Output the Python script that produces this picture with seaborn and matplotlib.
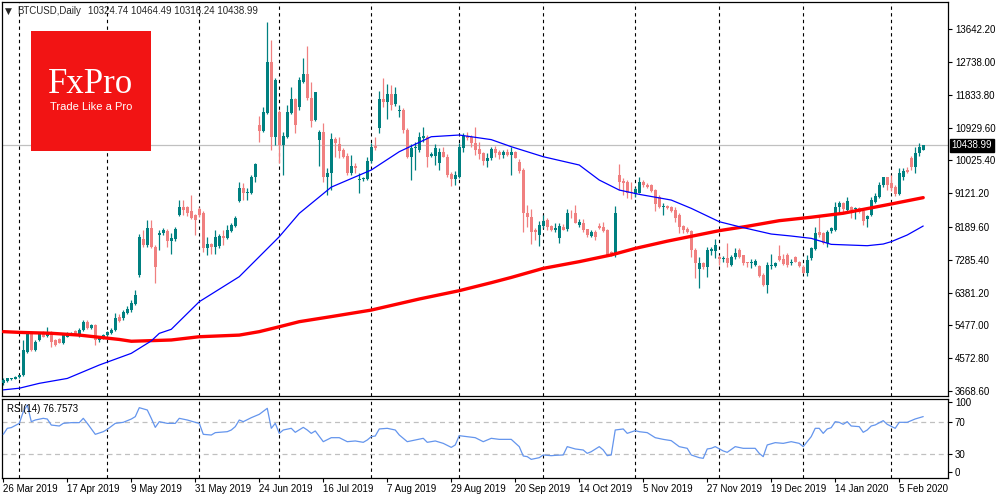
import numpy as np
import pandas as pd
import matplotlib
matplotlib.use("Agg")
import matplotlib.pyplot as plt
import seaborn as sns
from matplotlib.patches import Rectangle
from matplotlib.transforms import blended_transform_factory

sns.set_style("white")
plt.rcParams["font.family"] = ["Liberation Sans", "DejaVu Sans"]

# -----------------------------
# Daily OHLC (weekday bars, 26 Mar 2019 - 13 Feb 2020)
# -----------------------------
opens = [3880, 3955, 4000, 4010, 4060, 4110, 4750, 5300, 4800, 5070,
         5290, 5185, 5300, 5075, 5090, 4980, 5170, 5230, 5325, 5185,
         5350, 5580, 5400, 5490, 5075, 5120, 5210, 5260, 5350, 5720,
         5670, 5810, 5890, 6070, 6870, 7850, 7690, 8150, 7650, 7970,
         8015, 8090, 7815, 7850, 8520, 8750, 8730, 8640, 8520, 8700,
         8570, 7600, 7710, 7650, 7670, 7940, 7880, 8080, 8220, 8910,
         9255, 9120, 9120, 9560, 10990, 10850, 11340, 12740, 10660, 11370,
         10450, 10680, 11340, 11720, 11490, 12200, 12410, 11760, 11140, 10590,
         10820, 9580, 9670, 10610, 10480, 10310, 10150, 9670, 9870, 9485,
         9510, 9510, 10010, 10430, 10910, 11720, 11630, 11850, 11570, 11390,
         11415, 10860, 10130, 10360, 10310, 10650, 10680, 10150, 10150, 9945,
         10270, 10130, 9650, 9505, 9580, 10380, 10710, 10680, 10500, 10330,
         10220, 10020, 10080, 10340, 10250, 10175, 10250, 10175, 10250, 9990,
         9760, 8570, 8475, 8110, 7970, 8220, 8385, 8220, 8110, 7880,
         8200, 8125, 8585, 8565, 8245, 8310, 8125, 7940, 8060, 8220,
         8180, 8110, 7490, 7420, 9625, 9460, 9440, 9165, 9100, 9140,
         9440, 9350, 9350, 9210, 9025, 8730, 8780, 8750, 8660, 8520,
         8220, 8125, 8090, 7570, 7025, 7190, 7100, 7535, 7535, 7370,
         7300, 7345, 7140, 7370, 7555, 7410, 7205, 7190, 7140, 7125,
         6865, 6590, 7125, 7125, 7390, 7310, 7420, 7190, 7355, 7235,
         7095, 6930, 7325, 7575, 8060, 8015, 7740, 8090, 8105, 8730,
         8840, 8660, 8750, 8680, 8705, 8640, 8400, 8520, 8890, 9025,
         9350, 9560, 9395, 9280, 9100, 9580, 9760, 10080, 9855, 10240,
         10324.74]
highs = [4020, 4040, 4040, 4080, 4110, 5075, 5300, 5330, 5080, 5300,
         5330, 5440, 5330, 5100, 5120, 5250, 5300, 5300, 5350, 5400,
         5640, 5620, 5520, 5520, 5150, 5230, 5320, 5400, 5810, 5800,
         5900, 6010, 6180, 6440, 8000, 8110, 8380, 8380, 7700, 8110,
         8150, 8130, 8015, 8200, 8930, 8930, 8770, 9070, 8560, 8750,
         8620, 7905, 7740, 8110, 8000, 8110, 8250, 8310, 8490, 9440,
         9410, 9260, 9625, 9960, 11250, 11490, 13840, 13350, 12300, 11420,
         10800, 11550, 12040, 11750, 12320, 12840, 13180, 12200, 11920, 10860,
         11070, 9810, 10770, 10660, 10660, 10380, 10220, 10180, 9950, 9670,
         9560, 10130, 10500, 10680, 11950, 12290, 12130, 12100, 12040, 11550,
         11460, 10910, 10480, 10540, 10820, 10960, 10730, 10270, 10480, 10380,
         10405, 10200, 9700, 9740, 10500, 10770, 10800, 10730, 10940, 10540,
         10270, 10220, 10400, 10420, 10310, 10310, 10330, 10405, 10300, 10055,
         9810, 8800, 8700, 8150, 8355, 8520, 8430, 8250, 8310, 8290,
         8260, 8690, 8660, 8800, 8400, 8400, 8145, 8110, 8110, 8310,
         8330, 8125, 7530, 8770, 9930, 9530, 9485, 9440, 9300, 9560,
         9485, 9410, 9390, 9230, 9070, 8840, 8800, 8770, 8750, 8570,
         8245, 8200, 8110, 7600, 7370, 7235, 7650, 7650, 7850, 7420,
         7390, 7740, 7420, 7600, 7600, 7420, 7235, 7300, 7320, 7140,
         6930, 7235, 7450, 7235, 7695, 7445, 7465, 7300, 7390, 7260,
         7140, 7420, 7650, 8200, 8520, 8060, 8105, 8200, 8890, 8905,
         8890, 9025, 8770, 8750, 8750, 8680, 8520, 9010, 9140, 9440,
         9580, 9580, 9625, 9350, 9810, 9810, 9855, 10150, 10405, 10515,
         10464.49]
lows = [3840, 3930, 3980, 3990, 4030, 4090, 4720, 4770, 4780, 5040,
        5150, 5150, 4890, 4900, 4980, 4960, 5150, 5200, 5200, 5160,
        5330, 5380, 5380, 4940, 5020, 5090, 5180, 5240, 5320, 5580,
        5630, 5780, 5860, 6050, 6800, 7650, 7650, 7600, 6640, 7560,
        7980, 7650, 7460, 7800, 8490, 8520, 8500, 8400, 7970, 8480,
        7510, 7420, 7460, 7450, 7620, 7690, 7850, 8050, 8190, 8890,
        8930, 8930, 9100, 9440, 10540, 10800, 11300, 10310, 10450, 9960,
        9620, 10650, 11300, 10770, 11430, 12150, 11700, 10960, 11100, 9870,
        9440, 9070, 9210, 10130, 10080, 10100, 9620, 9620, 9670, 9120,
        9450, 9490, 9960, 10310, 10770, 11510, 11180, 11420, 11540, 11215,
        10770, 10100, 9490, 9760, 10270, 10540, 9850, 10130, 9900, 9760,
        10110, 9580, 9320, 9350, 9530, 10270, 10600, 10410, 10180, 10060,
        9900, 9850, 10040, 10130, 10060, 10080, 10150, 9625, 10080, 9670,
        8045, 8200, 7710, 7830, 7675, 8155, 8110, 8070, 8060, 7760,
        8100, 8090, 8430, 8290, 8200, 8060, 7925, 7925, 7830, 8125,
        8060, 7400, 7390, 7370, 9210, 9070, 8980, 8950, 9025, 9120,
        9300, 9255, 9165, 8640, 8705, 8520, 8690, 8610, 8340, 8015,
        8015, 8015, 7370, 6775, 6500, 7025, 6820, 7420, 7325, 7140,
        7235, 7100, 7115, 7300, 7325, 7140, 7095, 7050, 7115, 6820,
        6565, 6380, 7025, 7095, 7260, 7140, 7095, 7140, 7215, 7095,
        6910, 6840, 7280, 7555, 7925, 7720, 7650, 8035, 8090, 8570,
        8570, 8640, 8430, 8410, 8570, 8245, 8200, 8490, 8840, 8980,
        9300, 9210, 9190, 9045, 9080, 9485, 9670, 9760, 9690, 10150,
        10316.24]
closes = [3970, 4018, 4020, 4060, 4100, 4800, 5260, 4800, 5030, 5260,
          5150, 5300, 5030, 4940, 4980, 5210, 5260, 5280, 5210, 5350,
          5580, 5400, 5490, 5075, 5120, 5210, 5290, 5350, 5670, 5610,
          5860, 5920, 6090, 6320, 7920, 7690, 8150, 7650, 7100, 8015,
          8107, 7815, 7900, 8125, 8750, 8660, 8570, 8430, 8380, 8520,
          7600, 7710, 7650, 7920, 7940, 7880, 8110, 8245, 8450, 9275,
          9120, 9165, 9560, 9930, 10850, 11350, 12740, 10660, 12240, 10450,
          10700, 11370, 11720, 11000, 12240, 12410, 11760, 11120, 11900, 10800,
          9580, 9690, 10610, 10500, 10300, 10130, 9670, 9870, 9810, 9515,
          9550, 10010, 10405, 10380, 11720, 11630, 11850, 11560, 11850, 11415,
          10860, 10130, 10380, 10405, 10680, 10700, 10130, 10195, 10360, 10270,
          10130, 9625, 9505, 9625, 10405, 10700, 10640, 10500, 10310, 10200,
          10020, 10080, 10340, 10240, 10175, 10250, 10175, 10250, 10100, 9745,
          8570, 8475, 8060, 8045, 8245, 8355, 8200, 8110, 8155, 8220,
          8110, 8570, 8565, 8310, 8340, 8110, 7970, 8060, 7925, 8155,
          8090, 7420, 7420, 8585, 9440, 9410, 9140, 9120, 9230, 9440,
          9350, 9300, 9190, 8825, 8750, 8770, 8705, 8640, 8430, 8200,
          8110, 8060, 7570, 7190, 7190, 7100, 7555, 7575, 7695, 7300,
          7345, 7190, 7370, 7480, 7355, 7205, 7190, 7235, 7260, 6840,
          6590, 7140, 7140, 7205, 7280, 7170, 7140, 7235, 7235, 7115,
          6930, 7280, 7600, 8035, 7970, 7740, 8060, 8150, 8750, 8840,
          8680, 8915, 8660, 8705, 8610, 8365, 8490, 8935, 9045, 9350,
          9560, 9350, 9255, 9100, 9670, 9745, 9715, 9855, 10240, 10405,
          10438.99]

# Thick red moving average, read at sample bars
ma_red_bar = [0, 4, 12, 19, 24, 29, 32, 35, 42, 49, 59, 64, 69, 74, 82, 92,
              104, 114, 122, 127, 135, 144, 152, 158, 166, 179, 186, 194,
              202, 210, 222, 230]
ma_red_val = [5305, 5285, 5260, 5210, 5150, 5090, 5040, 5050, 5075, 5165,
              5210, 5305, 5440, 5580, 5720, 5900, 6205, 6435, 6655, 6800,
              7050, 7235, 7420, 7600, 7800, 8090, 8210, 8365, 8460, 8570,
              8825, 9000]

# Thin blue moving average
ma_blue_bar = [0, 4, 9, 16, 24, 32, 37, 39, 42, 49, 59, 69, 74, 82, 92, 99,
               107, 114, 122, 127, 135, 144, 149, 154, 159, 167, 172, 179,
               184, 192, 197, 202, 207, 216, 220, 222, 226, 230]
ma_blue_val = [3700, 3745, 3880, 4015, 4385, 4707, 5050, 5258, 5370, 6131,
               6821, 7923, 8567, 9290, 9762, 10267, 10680, 10727, 10600, 10405,
               10129, 9900, 9486, 9210, 9091, 8934, 8705, 8337, 8199, 7997,
               7942, 7878, 7712, 7675, 7721, 7786, 7970, 8218]

# RSI(14)
rsi_bar = [0, 1, 2, 4, 5, 6, 7, 8, 10, 11, 12, 14, 15, 17, 19, 20, 21, 23,
           25, 26, 28, 30, 32, 33, 34, 36, 37, 38, 39, 41, 43, 44, 46, 48,
           49, 50, 52, 53, 56, 57, 58, 59, 60, 62, 64, 66, 67, 68, 69, 70,
           72, 73, 75, 76, 77, 78, 80, 82, 84, 86, 88, 90, 91, 92, 93, 94,
           96, 98, 99, 101, 103, 105, 106, 108, 110, 112, 113, 114, 116, 118,
           120, 122, 124, 126, 127, 129, 130, 131, 132, 134, 135, 137, 138,
           140, 141, 143, 145, 146, 147, 149, 150, 151, 152, 153, 155, 156,
           158, 159, 161, 163, 165, 167, 169, 171, 172, 174, 175, 176, 177,
           178, 180, 181, 183, 185, 188, 189, 190, 191, 193, 195, 197, 199,
           200, 202, 203, 204, 205, 206, 207, 208, 209, 210, 211, 212, 214,
           215, 216, 217, 218, 220, 221, 223, 224, 226, 228, 230]
rsi_val = [54.6, 62.1, 63.0, 68.3, 82.9, 91.3, 70.4, 72.5, 74.6, 73.7, 66.2,
           65.0, 68.3, 69.2, 69.2, 74.6, 68.3, 54.6, 57.9, 60.8, 68.3, 69.6,
           73.7, 76.7, 87.9, 85.0, 74.6, 63.3, 70.4, 68.3, 68.3, 74.6, 72.5,
           69.6, 68.3, 54.6, 53.7, 56.7, 57.9, 60.0, 64.2, 72.5, 70.4, 75.4,
           79.6, 87.1, 62.1, 68.3, 55.8, 60.0, 62.1, 57.1, 63.3, 60.0, 55.8,
           58.8, 45.4, 50.4, 50.4, 45.4, 46.3, 44.6, 47.5, 51.7, 52.5, 61.3,
           62.1, 60.0, 53.8, 45.4, 47.5, 49.6, 44.6, 46.3, 43.3, 38.3, 41.3,
           52.9, 51.7, 50.4, 45.4, 49.6, 48.3, 48.3, 48.3, 39.2, 27.5, 26.7,
           23.3, 25.4, 28.8, 27.9, 28.3, 28.8, 39.2, 36.3, 35.0, 30.8, 32.9,
           39.2, 35.0, 27.9, 28.8, 60.0, 61.3, 55.8, 59.2, 57.9, 56.7, 50.4,
           48.3, 46.7, 39.2, 37.1, 28.8, 25.4, 24.6, 36.3, 37.1, 39.2, 33.8,
           32.1, 39.2, 37.1, 37.1, 30.8, 26.7, 41.3, 44.2, 43.3, 45.4, 43.3,
           39.2, 51.7, 62.1, 62.1, 55.8, 61.3, 62.9, 70.4, 69.6, 67.1, 70.4,
           65.0, 64.2, 57.1, 60.0, 65.0, 66.3, 71.7, 67.1, 62.1, 69.6, 69.6,
           73.8, 76.7573]

price_ticks = [13642.20, 12738.00, 11833.80, 10929.60, 10025.40, 9121.20,
               8189.60, 7285.40, 6381.20, 5477.00, 4572.80, 3668.60]

# -----------------------------
# Build frame
# -----------------------------
dates = pd.bdate_range("2019-03-26", "2020-02-13")
dates = dates.drop(pd.to_datetime(["2019-12-25", "2020-01-01"]))

df = pd.DataFrame({"date": dates, "open": opens, "high": highs,
                   "low": lows, "close": closes})
df["bar"] = np.arange(len(df))
df["up"] = df["close"] >= df["open"]

UP = "#008080"
DOWN = "#F08080"
colors = np.where(df["up"], UP, DOWN)

fig = plt.figure(figsize=(10, 5), dpi=100)
ax = fig.add_axes([0.002, 0.208, 0.946, 0.788])
ax_rsi = fig.add_axes([0.002, 0.044, 0.946, 0.158])

# -----------------------------
# Price panel
# -----------------------------
ax.axhline(closes[-1], color="#C0C0C0", lw=0.9, zorder=0)

ax.vlines(df["bar"], df["low"], df["high"], colors=colors, lw=0.9, zorder=2)
body_bottom = np.minimum(df["open"], df["close"])
body_height = np.maximum((df["close"] - df["open"]).abs(), 25)
ax.bar(df["bar"], body_height, bottom=body_bottom, width=0.72,
       color=colors, linewidth=0, zorder=3)

sns.lineplot(x=ma_red_bar, y=ma_red_val, ax=ax, color="#FF0000", lw=2.4,
             estimator=None, legend=False, zorder=4)
sns.lineplot(x=ma_blue_bar, y=ma_blue_val, ax=ax, color="#0000FF", lw=0.9,
             estimator=None, legend=False, zorder=4)

# month separators
sep_bars = [i for i in range(1, len(dates)) if dates[i].month != dates[i - 1].month]
for a in (ax, ax_rsi):
    for b in sep_bars:
        a.axvline(b, color="black", lw=0.8, ls=(0, (3, 3)), zorder=1)

ax.set_xlim(-0.325, 236.2)
ax.set_ylim(3530.7, 14395)
ax.set_xticks([])
ax.yaxis.tick_right()
ax.set_yticks(price_ticks)
ax.set_yticklabels([f"{v:.2f}" for v in price_ticks])
ax.tick_params(axis="y", direction="out", length=3, width=0.8,
               labelsize=7, pad=2, colors="black", right=True)

trans = blended_transform_factory(ax.transAxes, ax.transData)
ax.text(1.004, closes[-1], f"{closes[-1]:.2f}", transform=trans,
        color="white", fontsize=7, va="center", ha="left",
        bbox=dict(boxstyle="square,pad=0.2", fc="black", ec="black"), zorder=10)

# -----------------------------
# RSI panel
# -----------------------------
ax_rsi.axhline(70, color="#C0C0C0", lw=0.9, ls=(0, (4, 3)), zorder=0)
ax_rsi.axhline(30, color="#C0C0C0", lw=0.9, ls=(0, (4, 3)), zorder=0)
sns.lineplot(x=rsi_bar, y=rsi_val, ax=ax_rsi, color="#6495ED", lw=0.9,
             estimator=None, legend=False, zorder=3)

ax_rsi.set_xlim(-0.325, 236.2)
ax_rsi.set_ylim(0, 98.75)
ax_rsi.yaxis.tick_right()
ax_rsi.set_yticks([95, 70, 30, 7.5])
ax_rsi.set_yticklabels(["100", "70", "30", "0"])
ax_rsi.tick_params(axis="y", direction="out", length=3, width=0.8,
                   labelsize=7, pad=2, colors="black", right=True)

label_bars = list(range(0, len(dates), 16))
ax_rsi.set_xticks(label_bars)
ax_rsi.set_xticklabels([f"{dates[b].day} {dates[b].strftime('%b %Y')}" for b in label_bars],
                       ha="left")
ax_rsi.tick_params(axis="x", direction="out", length=3, width=0.8,
                   labelsize=7, pad=1.5, colors="black", bottom=True)
ax_rsi.set_xlabel("")
ax_rsi.set_ylabel("")
ax.set_xlabel("")
ax.set_ylabel("")

for a in (ax, ax_rsi):
    for s in a.spines.values():
        s.set_color("black")
        s.set_linewidth(0.9)

ax_rsi.text(0.005, 0.87, f"RSI(14) {rsi_val[-1]:.4f}", transform=ax_rsi.transAxes,
            fontsize=7, va="center", ha="left", color="black")

# -----------------------------
# Header and logo
# -----------------------------
fig.text(0.005, 1 - 11 / 500, "\u25bc", fontsize=6.5, va="center", ha="left",
         family=["DejaVu Sans"])
fig.text(0.017, 1 - 11 / 500, "BTCUSD,Daily", fontsize=7, va="center", ha="left")
fig.text(0.088, 1 - 11 / 500, f"{opens[-1]:.2f} {highs[-1]:.2f} {lows[-1]:.2f} {closes[-1]:.2f}",
         fontsize=7, va="center", ha="left")

logo = Rectangle((0.031, 0.698), 0.12, 0.24, transform=fig.transFigure,
                 facecolor="#F21414", edgecolor="none", zorder=5)
fig.add_artist(logo)
fig.text(0.091, 1 - 93 / 500, "FxPro", fontsize=25, color="white",
         family=["Liberation Serif"], ha="center", va="baseline", zorder=6)
fig.text(0.091, 1 - 110 / 500, "Trade Like a Pro", fontsize=8, color="white",
         ha="center", va="baseline", zorder=6)

fig.savefig("out.png", dpi=100)
